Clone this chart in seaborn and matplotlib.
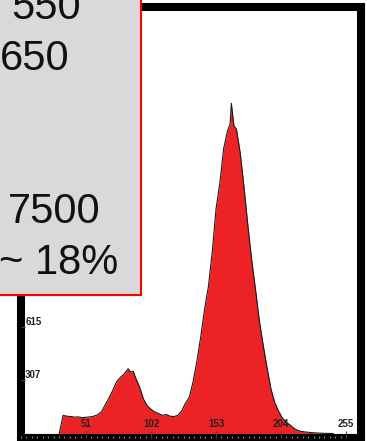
import numpy as np
import matplotlib
matplotlib.use('Agg')
import matplotlib.pyplot as plt
from matplotlib.patches import Rectangle
import seaborn as sns

# histogram values (channel, counts)
channel = [30, 33, 36, 39, 42, 45, 48, 51, 54, 57, 60, 63, 66, 69, 72, 75, 78, 81,
           84, 86, 88, 90, 93, 96, 99, 102, 105, 108, 111, 114, 117, 120, 123, 126,
           129, 132, 135, 138, 141, 144, 147, 150, 153, 156, 159, 162, 164, 165, 167,
           169, 172, 175, 178, 181, 184, 187, 190, 193, 196, 199, 202, 205, 208, 211,
           214, 217, 220, 224, 228, 232, 238, 245]
counts = [0, 105, 100, 98, 95, 96, 92, 94, 96, 100, 108, 125, 165, 205, 250, 300, 325, 345,
          375, 355, 360, 320, 270, 200, 160, 140, 125, 115, 105, 110, 100, 98, 105, 130,
          175, 210, 300, 420, 560, 720, 850, 1050, 1300, 1450, 1650, 1750, 1790, 1910, 1780,
          1760, 1620, 1420, 1200, 1000, 830, 650, 510, 380, 260, 180, 130, 90, 65, 50,
          30, 18, 12, 8, 5, 3, 1, 0]

x_ticks = [51, 102, 153, 204, 255]
y_ticks = [307, 615]

# text in the grey box: (label, right edge px, baseline px)
box_lines = [("550", 81, 19), ("650", 69, 70), ("7500", 100, 223), ("~ 18%", 118, 274)]

sns.set_theme(style='white')
plt.rcParams['font.family'] = ['Liberation Sans', 'DejaVu Sans']

W, H = 367, 441
fig = plt.figure(figsize=(W / 100, H / 100), dpi=100)
ax = fig.add_axes([21 / W, 1 - 438 / H, (361 - 21) / W, (438 - 6.5) / H])

ax.axhline(0, color='#c8c8c8', lw=1, zorder=0.9)
ax.fill_between(channel, counts, 0, color='#ed2224', lw=0)
sns.lineplot(x=channel, y=counts, color='#1a1a1a', linewidth=0.8, ax=ax)

ax.set_xlim(0, 266.7)
ax.set_ylim(-26, 2470)
ax.set_axisbelow(False)

ax.set_xticks(x_ticks)
ax.set_xticks(np.arange(0, 256, 51 / 12), minor=True)
ax.set_yticks(y_ticks)
ax.tick_params(axis='x', which='major', direction='in', length=5, width=0.8,
               color='#444444', pad=-13.5, labelsize=7, bottom=True)
ax.tick_params(axis='x', which='minor', direction='in', length=1.5, width=0.8,
               color='#888888', bottom=True)
ax.tick_params(axis='y', which='major', direction='in', length=3, width=0.8,
               color='#444444', pad=-3, labelsize=7, left=True)
for lab in ax.get_xticklabels() + ax.get_yticklabels():
    lab.set_fontweight('bold')
    lab.set_color('#222222')
plt.setp(ax.get_yticklabels(), ha='left', va='bottom')

for side in ['left', 'right', 'top', 'bottom']:
    ax.spines[side].set_visible(True)
    ax.spines[side].set_color('black')
    ax.spines[side].set_linewidth(5.8)

rect = Rectangle((-10 / W, 1 - 295 / H), 150.5 / W, 305 / H, transform=fig.transFigure,
                 facecolor='#d9d9d9', edgecolor='red', lw=1.5, zorder=10)
fig.add_artist(rect)
for s, xr, yb in box_lines:
    fig.text(xr / W, 1 - yb / H, s, ha='right', va='baseline', fontsize=30,
             color='#111111', zorder=11)

fig.savefig('out.png', dpi=100)
